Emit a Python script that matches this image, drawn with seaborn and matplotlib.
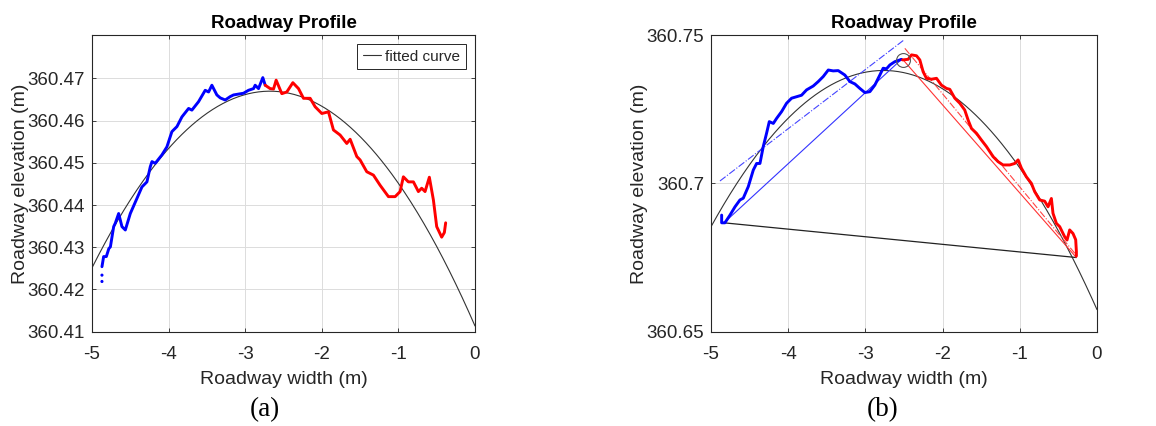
import numpy as np
import pandas as pd
import matplotlib
matplotlib.use("Agg")
import matplotlib.pyplot as plt
import seaborn as sns

# ---------------- data ----------------
# Panel (a)
a_blue_x = [-4.870, -4.848, -4.813, -4.780, -4.760, -4.717, -4.696, -4.652, -4.609, -4.565,
            -4.500, -4.413, -4.348, -4.283, -4.239, -4.217, -4.174, -4.087, -4.022, -3.957,
            -3.891, -3.826, -3.739, -3.696, -3.609, -3.522, -3.478, -3.435, -3.370, -3.326,
            -3.261, -3.196, -3.152, -3.087, -3.022, -2.957, -2.891, -2.870, -2.826, -2.770,
            -2.739]
a_blue_y = [360.4254, 360.4278, 360.4278, 360.4297, 360.4301, 360.4349, 360.4357, 360.4380,
            360.4349, 360.4341, 360.4380, 360.4416, 360.4443, 360.4455, 360.4491, 360.4503,
            360.4499, 360.4519, 360.4538, 360.4574, 360.4586, 360.4609, 360.4629, 360.4625,
            360.4645, 360.4672, 360.4668, 360.4684, 360.4661, 360.4654, 360.4649, 360.4657,
            360.4661, 360.4663, 360.4665, 360.4672, 360.4676, 360.4684, 360.4676, 360.4702,
            360.4684]
a_dots_x = [-4.870, -4.870]
a_dots_y = [360.4234, 360.4219]
a_red_x = [-2.739, -2.674, -2.630, -2.596, -2.522, -2.457, -2.378, -2.304, -2.239, -2.152,
           -2.087, -2.000, -1.913, -1.848, -1.761, -1.674, -1.630, -1.543, -1.500, -1.413,
           -1.326, -1.239, -1.130, -1.043, -0.978, -0.935, -0.870, -0.804, -0.739, -0.696,
           -0.652, -0.596, -0.543, -0.500, -0.435, -0.400, -0.383]
a_red_y = [360.4684, 360.4676, 360.4675, 360.4696, 360.4664, 360.4668, 360.4690, 360.4676,
           360.4653, 360.4653, 360.4633, 360.4617, 360.4621, 360.4578, 360.4566, 360.4546,
           360.4556, 360.4515, 360.4507, 360.4479, 360.4471, 360.4447, 360.4420, 360.4420,
           360.4432, 360.4467, 360.4455, 360.4455, 360.4432, 360.4440, 360.4432, 360.4466,
           360.4412, 360.4349, 360.4324, 360.4335, 360.4358]
a_fit_x = [-5.0, -4.5, -4.0, -3.5, -3.0, -2.5, -2.0, -1.5, -1.0, -0.5, 0.0]
a_fit_y = [360.4250, 360.4412, 360.4534, 360.4620, 360.4663, 360.4670, 360.4632, 360.4558,
           360.4450, 360.4305, 360.4114]

# Panel (b)
b_blue_x = [-4.862, -4.862, -4.820, -4.754, -4.689, -4.625, -4.582, -4.517, -4.452, -4.409,
            -4.366, -4.323, -4.280, -4.245, -4.193, -4.150, -4.085, -4.021, -3.956, -3.891,
            -3.827, -3.762, -3.676, -3.611, -3.546, -3.481, -3.417, -3.352, -3.266, -3.201,
            -3.136, -3.072, -3.007, -2.942, -2.878, -2.813, -2.770, -2.727, -2.683, -2.619,
            -2.554, -2.532]
b_blue_y = [360.6893, 360.6867, 360.6867, 360.6893, 360.6921, 360.6944, 360.6950, 360.6989,
            360.7045, 360.7067, 360.7067, 360.7124, 360.7169, 360.7208, 360.7202, 360.7219,
            360.7242, 360.7270, 360.7287, 360.7292, 360.7297, 360.7315, 360.7328, 360.7343,
            360.7360, 360.7382, 360.7379, 360.7380, 360.7365, 360.7343, 360.7335, 360.7320,
            360.7306, 360.7309, 360.7331, 360.7365, 360.7388, 360.7386, 360.7399, 360.7410,
            360.7416, 360.7418]
b_red_x = [-2.519, -2.446, -2.403, -2.338, -2.295, -2.252, -2.209, -2.144, -2.079, -2.015,
           -1.950, -1.907, -1.842, -1.777, -1.713, -1.669, -1.626, -1.562, -1.497, -1.432,
           -1.346, -1.281, -1.217, -1.130, -1.066, -1.022, -0.979, -0.915, -0.850, -0.807,
           -0.742, -0.678, -0.634, -0.591, -0.570, -0.526, -0.483, -0.419, -0.388, -0.354,
           -0.311, -0.276, -0.267, -0.267]
b_red_y = [360.7416, 360.7418, 360.7433, 360.7430, 360.7416, 360.7376, 360.7354, 360.7351,
           360.7354, 360.7331, 360.7320, 360.7317, 360.7287, 360.7270, 360.7247, 360.7213,
           360.7185, 360.7169, 360.7146, 360.7124, 360.7090, 360.7073, 360.7062, 360.7062,
           360.7067, 360.7079, 360.7051, 360.7022, 360.7000, 360.6972, 360.6944, 360.6940,
           360.6921, 360.6949, 360.6899, 360.6865, 360.6854, 360.6820, 360.6809, 360.6843,
           360.6831, 360.6810, 360.6770, 360.6755]
b_fit_x = [-5.0, -4.5, -4.0, -3.5, -3.0, -2.5, -2.0, -1.5, -1.0, -0.5, 0.0]
b_fit_y = [360.6854, 360.7063, 360.7220, 360.7323, 360.7374, 360.7373, 360.7318, 360.7211,
           360.7055, 360.6840, 360.6573]
b_chord_x = [-4.832, -0.267]          # black chord
b_chord_y = [360.6867, 360.6750]
b_blue_line_x = [-4.832, -2.532]      # blue solid chord
b_blue_line_y = [360.6867, 360.7418]
b_blue_dd_x = [-4.884, -2.502]        # blue dash-dot
b_blue_dd_y = [360.7008, 360.7483]
b_red_line_x = [-2.511, -0.267]       # red solid chord
b_red_line_y = [360.7416, 360.6750]
b_red_dd_x = [-2.489, -0.280]         # red dash-dot
b_red_dd_y = [360.7455, 360.6762]
b_apex_x = [-2.519]
b_apex_y = [360.7416]

a_yticks = [360.41, 360.42, 360.43, 360.44, 360.45, 360.46, 360.47]
a_yticklabels = ["360.41", "360.42", "360.43", "360.44", "360.45", "360.46", "360.47"]
b_yticks = [360.65, 360.70, 360.75]
b_yticklabels = ["360.65", "360.7", "360.75"]
x_ticks = [-5, -4, -3, -2, -1, 0]
x_ticklabels = ["-5", "-4", "-3", "-2", "-1", "0"]

# ---------------- style ----------------
sns.set_theme(style="whitegrid")
plt.rcParams["font.family"] = ["Liberation Sans", "DejaVu Sans"]
TXT = "#262626"

fig = plt.figure(figsize=(11.56, 4.26), dpi=100)
axA = fig.add_axes([92 / 1156, 1 - 331.7 / 426, (475 - 92) / 1156, (331.7 - 35) / 426])
axB = fig.add_axes([711 / 1156, 1 - 331.7 / 426, (1097 - 711) / 1156, (331.7 - 35) / 426])


def smooth_fit(xs, ys):
    xs = np.asarray(xs)
    ys = np.asarray(ys)
    off = ys.mean()
    c = np.polyfit(xs, ys - off, 2)
    xx = np.linspace(-5, 0, 300)
    return pd.DataFrame({"x": xx, "y": np.polyval(c, xx) + off})


def line(ax, xs, ys, **kw):
    sns.lineplot(data=pd.DataFrame({"x": xs, "y": ys}), x="x", y="y", ax=ax,
                 sort=False, estimator=None, **kw)


# ---------------- panel (a) ----------------
fa = smooth_fit(a_fit_x, a_fit_y)
sns.lineplot(data=fa, x="x", y="y", ax=axA, color="#333333", lw=0.8, label="fitted curve",
             sort=False, estimator=None)
line(axA, a_blue_x, a_blue_y, color="#0000ff", lw=2.1)
line(axA, a_red_x, a_red_y, color="#ff0000", lw=2.1)
sns.scatterplot(x=a_dots_x, y=a_dots_y, ax=axA, color="#0000ff", s=5, edgecolor="none")

# ---------------- panel (b) ----------------
fb = smooth_fit(b_fit_x, b_fit_y)
sns.lineplot(data=fb, x="x", y="y", ax=axB, color="#333333", lw=0.8, sort=False, estimator=None)
line(axB, b_chord_x, b_chord_y, color="#222222", lw=0.9)
line(axB, b_blue_line_x, b_blue_line_y, color="#3333ff", lw=0.8)
line(axB, b_blue_dd_x, b_blue_dd_y, color="#4444ff", lw=0.8, linestyle="-.")
line(axB, b_red_line_x, b_red_line_y, color="#ff3333", lw=0.8)
line(axB, b_red_dd_x, b_red_dd_y, color="#ff4444", lw=0.8, linestyle="-.")
line(axB, b_blue_x, b_blue_y, color="#0000ff", lw=2.1)
line(axB, b_red_x, b_red_y, color="#ff0000", lw=2.1)
axB.plot(b_apex_x, b_apex_y, marker="o", ms=10, mfc="none", mec="#555555", mew=0.8, ls="none")

for ax, yt, ytl, ylim in [(axA, a_yticks, a_yticklabels, (360.41, 360.4803)),
                          (axB, b_yticks, b_yticklabels, (360.65, 360.75))]:
    ax.set_xlim(-5, 0)
    ax.set_ylim(*ylim)
    ax.set_xticks(x_ticks)
    ax.set_xticklabels(x_ticklabels)
    ax.set_yticks(yt)
    ax.set_yticklabels(ytl)
    ax.tick_params(axis="both", labelsize=13.5, colors=TXT, direction="in", length=3, width=0.6,
                   top=True, right=True, bottom=True, left=True)
    ax.tick_params(axis="x", pad=10)
    ax.tick_params(axis="y", pad=5)
    ax.grid(True, color="#dcdcdc", lw=0.7)
    for s in ax.spines.values():
        s.set_visible(True)
        s.set_color(TXT)
        s.set_linewidth(0.8)
    ax.set_xlabel("Roadway width (m)", fontsize=14, color=TXT, labelpad=6)
    ax.set_ylabel("Roadway elevation (m)", fontsize=14, color=TXT, labelpad=-1)
    ax.set_title("Roadway Profile", fontsize=13.5, fontweight="bold", color="black", pad=5)
    ax.set_facecolor("white")

leg = axA.legend(loc="upper right", fontsize=11, frameon=True, fancybox=False,
                 edgecolor=TXT, framealpha=1, handlelength=1.2, handletextpad=0.3,
                 borderpad=0.35, borderaxespad=0.6)
leg.get_frame().set_linewidth(0.7)
for t in leg.get_texts():
    t.set_color(TXT)

fig.text(265 / 1156, 1 - 410 / 426, "(a)", ha="center", va="center", fontsize=19.5,
         family=["Liberation Serif", "DejaVu Serif"], color="black")
fig.text(883 / 1156, 1 - 410 / 426, "(b)", ha="center", va="center", fontsize=19.5,
         family=["Liberation Serif", "DejaVu Serif"], color="black")

fig.savefig("out.png", dpi=100, facecolor="white")
